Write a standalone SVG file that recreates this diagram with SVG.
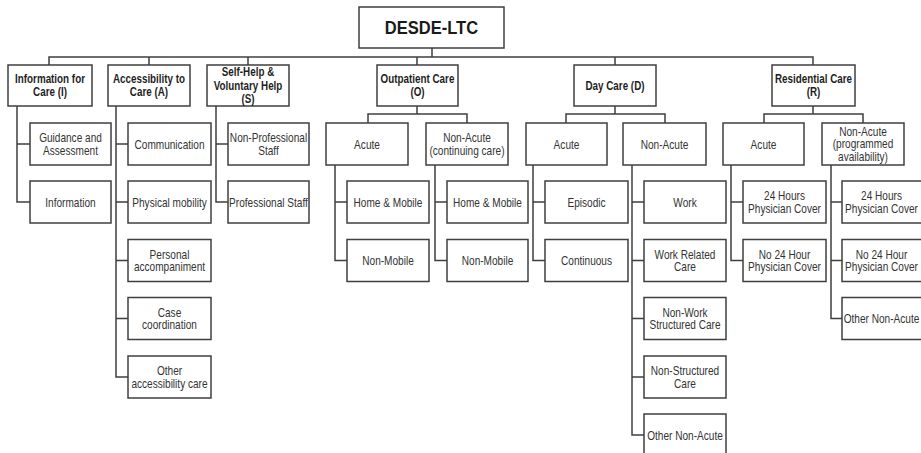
<svg xmlns="http://www.w3.org/2000/svg" width="921" height="453" viewBox="0 0 921 453">
<style>
.bg{fill:#fff}
.box{fill:#fff;stroke:#3f3f3f;stroke-width:1.5}
.c{fill:none;stroke:#3f3f3f;stroke-width:1.5}
text{font-family:"Liberation Sans",Arial,sans-serif;text-anchor:middle;fill:#333}
.t{font-size:12.3px}
.h{font-size:12px;font-weight:bold;fill:#1e1e1e}
.title{font-size:19px;font-weight:bold;fill:#1a1a1a}
</style>
<rect class="bg" x="0" y="0" width="921" height="453"/>
<g id="connectors">
<path class="c" d="M432,48V57M49,65V57H813V65M149,57V65M248,57V65M417,57V65M615,57V65"/>
<path class="c" d="M17,106V202H30M17,144H30"/>
<path class="c" d="M116,106V377H128M116,144H128M116,202H128M116,260.5H128M116,318.5H128"/>
<path class="c" d="M216,106V202H228M216,144H228"/>
<path class="c" d="M417,106V114M368,123V114H467V123"/>
<path class="c" d="M335,165V260.5H347M335,202H347"/>
<path class="c" d="M435,165V260.5H447M435,202H447"/>
<path class="c" d="M615,106V114M566,123V114H665V123"/>
<path class="c" d="M533,165V260.5H545M533,202H545"/>
<path class="c" d="M632,165V435H644M632,202H644M632,260.5H644M632,318.5H644M632,377H644"/>
<path class="c" d="M813,106V114M764,123V114H863V123"/>
<path class="c" d="M731,165V260.5H743M731,202H743"/>
<path class="c" d="M831,165V318.5H842M831,202H842M831,260.5H842"/>
</g>
<g id="root"><rect class="box" x="359" y="7" width="145" height="41"/><text class="title" transform="translate(431.5 34.3) scale(0.87 1)">DESDE-LTC</text></g>
<g id="info"><rect class="box" x="8" y="65" width="84" height="41"/><text class="h" transform="translate(50 83.3) scale(0.82 1)">Information for</text><text class="h" transform="translate(50 96) scale(0.82 1)">Care (I)</text></g>
<g id="access"><rect class="box" x="108" y="65" width="82" height="41"/><text class="h" transform="translate(149 83.3) scale(0.82 1)">Accessibility to</text><text class="h" transform="translate(149 96) scale(0.82 1)">Care (A)</text></g>
<g id="selfhelp"><rect class="box" x="207" y="65" width="82" height="41"/><text class="h" transform="translate(248 76) scale(0.82 1)">Self-Help &amp;</text><text class="h" transform="translate(248 89.5) scale(0.82 1)">Voluntary Help</text><text class="h" transform="translate(248 102.5) scale(0.82 1)">(S)</text></g>
<g id="outpatient"><rect class="box" x="377" y="65" width="81" height="41"/><text class="h" transform="translate(417.5 83.3) scale(0.82 1)">Outpatient Care</text><text class="h" transform="translate(417.5 96) scale(0.82 1)">(O)</text></g>
<g id="daycare"><rect class="box" x="574" y="65" width="82" height="41"/><text class="h" transform="translate(615 90) scale(0.82 1)">Day Care (D)</text></g>
<g id="residential"><rect class="box" x="772" y="65" width="83" height="41"/><text class="h" transform="translate(813.5 83.3) scale(0.82 1)">Residential Care</text><text class="h" transform="translate(813.5 96) scale(0.82 1)">(R)</text></g>

<g id="i-guidance"><rect class="box" x="30" y="123" width="81" height="42"/><text class="t" transform="translate(70.5 142) scale(0.82 1)">Guidance and</text><text class="t" transform="translate(70.5 154.7) scale(0.82 1)">Assessment</text></g>
<g id="i-information"><rect class="box" x="30" y="181" width="81" height="42"/><text class="t" transform="translate(70.5 206.5) scale(0.82 1)">Information</text></g>

<g id="a-communication"><rect class="box" x="128" y="123" width="83" height="42"/><text class="t" transform="translate(169.5 148.5) scale(0.82 1)">Communication</text></g>
<g id="a-physical"><rect class="box" x="128" y="181" width="83" height="42"/><text class="t" transform="translate(169.5 206.5) scale(0.82 1)">Physical mobility</text></g>
<g id="a-personal"><rect class="box" x="128" y="239.5" width="83" height="42"/><text class="t" transform="translate(169.5 258.5) scale(0.82 1)">Personal</text><text class="t" transform="translate(169.5 271.2) scale(0.82 1)">accompaniment</text></g>
<g id="a-case"><rect class="box" x="128" y="297.5" width="83" height="42"/><text class="t" transform="translate(169.5 316.5) scale(0.82 1)">Case</text><text class="t" transform="translate(169.5 329.2) scale(0.82 1)">coordination</text></g>
<g id="a-other"><rect class="box" x="128" y="356" width="83" height="42"/><text class="t" transform="translate(169.5 375) scale(0.82 1)">Other</text><text class="t" transform="translate(169.5 387.7) scale(0.82 1)">accessibility care</text></g>

<g id="s-nonprof"><rect class="box" x="228" y="123" width="81" height="42"/><text class="t" transform="translate(268.5 142) scale(0.82 1)">Non-Professional</text><text class="t" transform="translate(268.5 154.7) scale(0.82 1)">Staff</text></g>
<g id="s-prof"><rect class="box" x="228" y="181" width="81" height="42"/><text class="t" transform="translate(268.5 206.5) scale(0.82 1)">Professional Staff</text></g>

<g id="o-acute"><rect class="box" x="326" y="123" width="82" height="42"/><text class="t" transform="translate(367 148.5) scale(0.82 1)">Acute</text></g>
<g id="o-nonacute"><rect class="box" x="426" y="123" width="82" height="42"/><text class="t" transform="translate(467 142) scale(0.82 1)">Non-Acute</text><text class="t" transform="translate(467 154.7) scale(0.82 1)">(continuing care)</text></g>
<g id="oa-home"><rect class="box" x="347" y="181" width="82" height="42"/><text class="t" transform="translate(388 206.5) scale(0.82 1)">Home &amp; Mobile</text></g>
<g id="oa-nonmobile"><rect class="box" x="347" y="239.5" width="82" height="42"/><text class="t" transform="translate(388 265) scale(0.82 1)">Non-Mobile</text></g>
<g id="on-home"><rect class="box" x="447" y="181" width="81" height="42"/><text class="t" transform="translate(487.5 206.5) scale(0.82 1)">Home &amp; Mobile</text></g>
<g id="on-nonmobile"><rect class="box" x="447" y="239.5" width="81" height="42"/><text class="t" transform="translate(487.5 265) scale(0.82 1)">Non-Mobile</text></g>

<g id="d-acute"><rect class="box" x="526" y="123" width="81" height="42"/><text class="t" transform="translate(566.5 148.5) scale(0.82 1)">Acute</text></g>
<g id="d-nonacute"><rect class="box" x="623" y="123" width="83" height="42"/><text class="t" transform="translate(664.5 148.5) scale(0.82 1)">Non-Acute</text></g>
<g id="da-episodic"><rect class="box" x="545" y="181" width="83" height="42"/><text class="t" transform="translate(586.5 206.5) scale(0.82 1)">Episodic</text></g>
<g id="da-continuous"><rect class="box" x="545" y="239.5" width="83" height="42"/><text class="t" transform="translate(586.5 265) scale(0.82 1)">Continuous</text></g>
<g id="dn-work"><rect class="box" x="644" y="181" width="82" height="42"/><text class="t" transform="translate(685 206.5) scale(0.82 1)">Work</text></g>
<g id="dn-workrelated"><rect class="box" x="644" y="239.5" width="82" height="42"/><text class="t" transform="translate(685 258.5) scale(0.82 1)">Work Related</text><text class="t" transform="translate(685 271.2) scale(0.82 1)">Care</text></g>
<g id="dn-nonwork"><rect class="box" x="644" y="297.5" width="82" height="42"/><text class="t" transform="translate(685 316.5) scale(0.82 1)">Non-Work</text><text class="t" transform="translate(685 329.2) scale(0.82 1)">Structured Care</text></g>
<g id="dn-nonstructured"><rect class="box" x="644" y="356" width="82" height="42"/><text class="t" transform="translate(685 375) scale(0.82 1)">Non-Structured</text><text class="t" transform="translate(685 387.7) scale(0.82 1)">Care</text></g>
<g id="dn-other"><rect class="box" x="644" y="414" width="82" height="42"/><text class="t" transform="translate(685 439.5) scale(0.82 1)">Other Non-Acute</text></g>

<g id="r-acute"><rect class="box" x="723" y="123" width="81" height="42"/><text class="t" transform="translate(763.5 148.5) scale(0.82 1)">Acute</text></g>
<g id="r-nonacute"><rect class="box" x="822" y="123" width="82" height="42"/><text class="t" transform="translate(863 135.5) scale(0.82 1)">Non-Acute</text><text class="t" transform="translate(863 148.3) scale(0.82 1)">(programmed</text><text class="t" transform="translate(863 161) scale(0.82 1)">availability)</text></g>
<g id="ra-24"><rect class="box" x="743" y="181" width="83" height="42"/><text class="t" transform="translate(784.5 200) scale(0.82 1)">24 Hours</text><text class="t" transform="translate(784.5 212.7) scale(0.82 1)">Physician Cover</text></g>
<g id="ra-no24"><rect class="box" x="743" y="239.5" width="83" height="42"/><text class="t" transform="translate(784.5 258.5) scale(0.82 1)">No 24 Hour</text><text class="t" transform="translate(784.5 271.2) scale(0.82 1)">Physician Cover</text></g>
<g id="rn-24"><rect class="box" x="842" y="181" width="82" height="42"/><text class="t" transform="translate(881.5 200) scale(0.82 1)">24 Hours</text><text class="t" transform="translate(881.5 212.7) scale(0.82 1)">Physician Cover</text></g>
<g id="rn-no24"><rect class="box" x="842" y="239.5" width="82" height="42"/><text class="t" transform="translate(881.5 258.5) scale(0.82 1)">No 24 Hour</text><text class="t" transform="translate(881.5 271.2) scale(0.82 1)">Physician Cover</text></g>
<g id="rn-other"><rect class="box" x="842" y="297.5" width="82" height="42"/><text class="t" transform="translate(881.5 323) scale(0.82 1)">Other Non-Acute</text></g>
</svg>
